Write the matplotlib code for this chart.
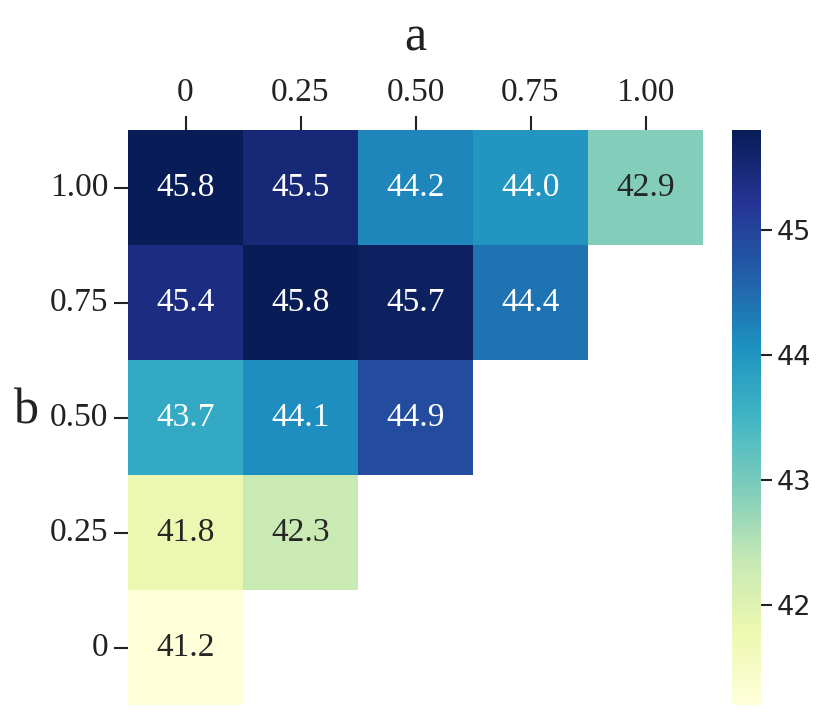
import matplotlib
matplotlib.use("Agg")
import matplotlib.pyplot as plt
import numpy as np
import seaborn as sns

a_labels = ["0", "0.25", "0.50", "0.75", "1.00"]
b_labels = ["1.00", "0.75", "0.50", "0.25", "0"]

row_100 = [45.8, 45.5, 44.2, 44.0, 42.9]
row_075 = [45.4, 45.8, 45.7, 44.4, np.nan]
row_050 = [43.7, 44.1, 44.9, np.nan, np.nan]
row_025 = [41.8, 42.3, np.nan, np.nan, np.nan]
row_000 = [41.2, np.nan, np.nan, np.nan, np.nan]

data = np.array([row_100, row_075, row_050, row_025, row_000])
mask = np.isnan(data)

plt.rcParams['font.family'] = ['Liberation Serif', 'DejaVu Serif']

fig = plt.figure(figsize=(8.3, 7.22), dpi=100)
ax = fig.add_axes([128 / 830, 1 - 705 / 722, 575 / 830, 575 / 722])
cax = fig.add_axes([732 / 830, 1 - 705 / 722, 29 / 830, 575 / 722])

sns.heatmap(data, mask=mask, cmap="YlGnBu", annot=True, fmt=".1f",
            annot_kws={"fontsize": 24}, ax=ax, cbar_ax=cax,
            xticklabels=a_labels, yticklabels=b_labels, linewidths=0)

ax.xaxis.tick_top()
ax.xaxis.set_label_position('top')
ax.tick_params(axis='both', labelsize=24, length=10, width=1.5, colors='#222222',
               labelcolor='#222222')
ax.tick_params(axis='x', pad=6)
ax.tick_params(axis='y', rotation=0, pad=4)
ax.set_xlabel("a", fontsize=36, labelpad=19, color='#222222')
ax.set_ylabel("b", fontsize=36, rotation=0, va='baseline', ha='center',
              color='#222222')
ax.yaxis.set_label_coords(-0.176, 0.489)

cax.set_yticks([42, 43, 44, 45])
cax.tick_params(labelsize=19.5, length=8, width=1.5, colors='#222222')
for t in cax.get_yticklabels():
    t.set_fontfamily('DejaVu Sans')

fig.savefig("out.png", dpi=100)
